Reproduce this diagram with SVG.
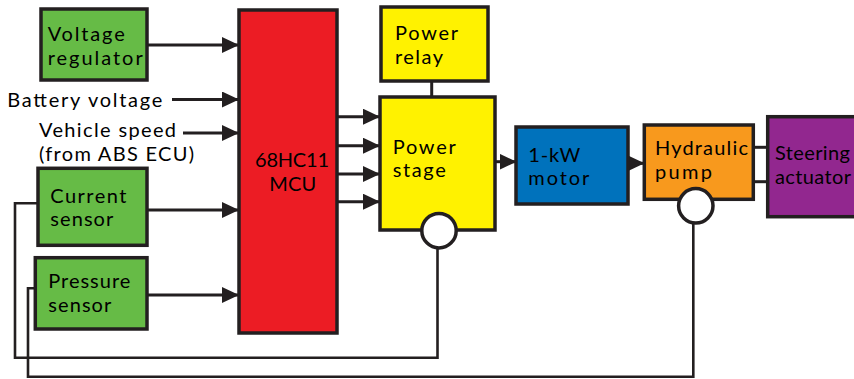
<svg xmlns="http://www.w3.org/2000/svg" width="854" height="379" viewBox="0 0 854 379">
<defs>
<marker id="ah" markerUnits="userSpaceOnUse" markerWidth="18" markerHeight="16" refX="17" refY="8" orient="auto">
<path d="M0,0 L17,8 L0,16 Z" fill="#231f20"/>
</marker>
<style>
.box{stroke:#231f20;stroke-width:3.5}
.t{font-family:Lato,"Open Sans","Liberation Sans",sans-serif;font-size:20px;fill:#000}
.ln{fill:none;stroke:#231f20;stroke-width:3}
.fb{fill:none;stroke:#231f20;stroke-width:2.6}
.g{fill:#66bb46}.r{fill:#ec1c24}.y{fill:#fff200}.b{fill:#0072bc}.o{fill:#f8991d}.p{fill:#92278f}
</style>
</defs>
<rect width="854" height="379" fill="#fff"/>
<g id="connectors">
<line class="ln" x1="147" y1="45" x2="239" y2="45" marker-end="url(#ah)"/>
<line class="ln" x1="172" y1="99.5" x2="239" y2="99.5" marker-end="url(#ah)"/>
<line class="ln" x1="183" y1="133" x2="239" y2="133" marker-end="url(#ah)"/>
<line class="ln" x1="147" y1="210" x2="239" y2="210" marker-end="url(#ah)"/>
<line class="ln" x1="147" y1="295" x2="239" y2="295" marker-end="url(#ah)"/>
<line class="ln" x1="337" y1="116.7" x2="380" y2="116.7" marker-end="url(#ah)"/>
<line class="ln" x1="337" y1="145.7" x2="380" y2="145.7" marker-end="url(#ah)"/>
<line class="ln" x1="337" y1="174" x2="380" y2="174" marker-end="url(#ah)"/>
<line class="ln" x1="337" y1="201.7" x2="380" y2="201.7" marker-end="url(#ah)"/>
<line class="ln" x1="431.7" y1="81" x2="431.7" y2="97"/>
<line class="ln" x1="495" y1="161.7" x2="516.5" y2="161.7" marker-end="url(#ah)"/>
<line class="ln" x1="628" y1="163.3" x2="644.5" y2="163.3" marker-end="url(#ah)"/>
<line class="ln" x1="753" y1="147.3" x2="768" y2="147.3"/>
<line class="ln" x1="753" y1="181.7" x2="768" y2="181.7"/>
<polyline class="fb" points="38,203.3 15,203.3 15,357.7 437.5,357.7 437.5,248"/>
<polyline class="fb" points="35,288.3 28,288.3 28,376.7 693.3,376.7 693.3,223.5"/>
</g>
<g id="voltage-regulator">
<rect class="box g" x="41" y="9" width="106" height="71"/>
<text class="t"><tspan x="47.7" y="40.7" textLength="77" lengthAdjust="spacing">Voltage</tspan><tspan x="47.7" y="64.5" textLength="95" lengthAdjust="spacing">regulator</tspan></text>
</g>
<g id="battery-voltage">
<text class="t" x="7.3" y="107" textLength="155" lengthAdjust="spacing">Battery voltage</text>
</g>
<g id="vehicle-speed">
<text class="t"><tspan x="39" y="137" textLength="137" lengthAdjust="spacing">Vehicle speed</tspan><tspan x="39" y="161" textLength="155" lengthAdjust="spacing">(from ABS ECU)</tspan></text>
</g>
<g id="current-sensor">
<rect class="box g" x="38" y="168.3" width="109" height="77"/>
<text class="t"><tspan x="50.3" y="202.7" textLength="76" lengthAdjust="spacing">Current</tspan><tspan x="50.3" y="226" textLength="63" lengthAdjust="spacing">sensor</tspan></text>
</g>
<g id="pressure-sensor">
<rect class="box g" x="35.3" y="257.7" width="111.7" height="71.3"/>
<text class="t"><tspan x="48.3" y="288" textLength="82" lengthAdjust="spacing">Pressure</tspan><tspan x="48.3" y="311.7" textLength="63" lengthAdjust="spacing">sensor</tspan></text>
</g>
<g id="mcu">
<rect class="box r" x="239" y="10" width="98" height="323"/>
<text class="t"><tspan x="255" y="167" textLength="74" lengthAdjust="spacing">68HC11</tspan><tspan x="269.3" y="190.5" textLength="47" lengthAdjust="spacing">MCU</tspan></text>
</g>
<g id="power-relay">
<rect class="box y" x="381" y="7" width="107" height="74"/>
<text class="t"><tspan x="395" y="40" textLength="63" lengthAdjust="spacing">Power</tspan><tspan x="395" y="63.5" textLength="48" lengthAdjust="spacing">relay</tspan></text>
</g>
<g id="power-stage">
<rect class="box y" x="380" y="97" width="115" height="133"/>
<text class="t"><tspan x="392.7" y="153.5" textLength="63" lengthAdjust="spacing">Power</tspan><tspan x="392.7" y="177" textLength="53" lengthAdjust="spacing">stage</tspan></text>
<circle class="box" fill="#fff" cx="439" cy="230.7" r="17.2"/>
</g>
<g id="motor">
<rect class="box b" x="516" y="127" width="112" height="77"/>
<text class="t"><tspan x="528.3" y="161.5" textLength="52" lengthAdjust="spacing">1-kW</tspan><tspan x="528.3" y="185.2" textLength="61" lengthAdjust="spacing">motor</tspan></text>
</g>
<g id="hydraulic-pump">
<rect class="box o" x="644.3" y="125" width="109" height="74.3"/>
<text class="t"><tspan x="655" y="155" textLength="93" lengthAdjust="spacing">Hydraulic</tspan><tspan x="655" y="179.3" textLength="57" lengthAdjust="spacing">pump</tspan></text>
<circle class="box" fill="#fff" cx="695.8" cy="205.8" r="17.2"/>
</g>
<g id="steering-actuator">
<rect class="box p" x="767.7" y="116.7" width="92" height="100"/>
<text class="t"><tspan x="775" y="159.8" textLength="75" lengthAdjust="spacing">Steering</tspan><tspan x="775" y="183.5" textLength="76" lengthAdjust="spacing">actuator</tspan></text>
</g>
</svg>
